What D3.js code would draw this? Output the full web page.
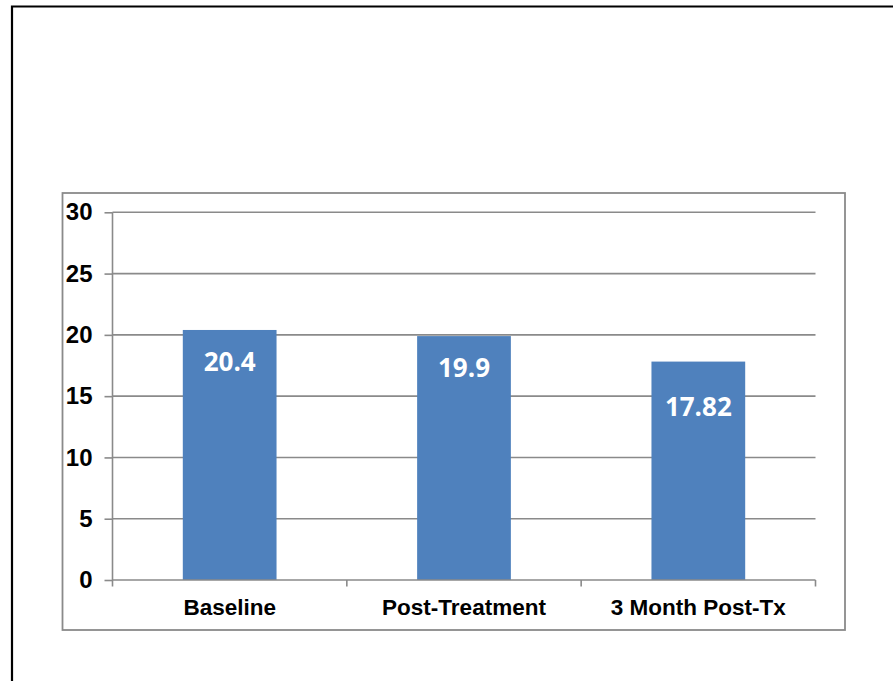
<!DOCTYPE html>
<html>
<head>
<meta charset="utf-8">
<script src="https://cdn.jsdelivr.net/npm/d3@7"></script>
<style>
  html, body { margin: 0; padding: 0; background: #ffffff; }
  svg { display: block; }
</style>
</head>
<body>
<svg id="chart" width="893" height="681"></svg>
<script>
// Scores at each assessment point
const categories = ["Baseline", "Post-Treatment", "3 Month Post-Tx"];
const values = [20.4, 19.9, 17.82];
const valueLabels = ["20.4", "19.9", "17.82"];
const yTicks = [0, 5, 10, 15, 20, 25, 30];
// extra downward shift of each value label inside its bar
const labelNudge = [0, 0, 13];

const svg = d3.select("#chart");
const W = 893, H = 681;

// outer page frame (top and left edges visible)
svg.append("path")
  .attr("d", `M12,${H} L12,6.5 L${W},6.5`)
  .attr("fill", "none")
  .attr("stroke", "#000")
  .attr("stroke-width", 2.2);

// chart area frame
svg.append("rect")
  .attr("x", 62.5).attr("y", 193)
  .attr("width", 782.5).attr("height", 437)
  .attr("fill", "#fff")
  .attr("stroke", "#8a8a8a")
  .attr("stroke-width", 1.8);

const plot = { left: 112.5, right: 815.5, top: 212.3, bottom: 580 };
const gridColor = "#8a8a8a";

const y = d3.scaleLinear().domain([0, 30]).range([plot.bottom, plot.top]);
const xCat = d3.scaleBand().domain(categories).range([plot.left, plot.right]).padding(0);
const xBar = d3.scaleBand().domain(categories).range([plot.left, plot.right])
  .paddingInner(0.6).paddingOuter(0.3);

// horizontal gridlines
svg.append("g")
  .selectAll("line")
  .data(yTicks.filter(t => t > 0))
  .join("line")
  .attr("x1", plot.left).attr("x2", plot.right)
  .attr("y1", d => y(d)).attr("y2", d => y(d))
  .attr("stroke", gridColor).attr("stroke-width", 1.6);

// y axis
const yAxis = svg.append("g")
  .attr("transform", `translate(${plot.left},0)`)
  .call(d3.axisLeft(y).tickValues(yTicks).tickSize(8).tickPadding(12).tickFormat(d3.format("d")));
yAxis.select(".domain").attr("stroke", gridColor).attr("stroke-width", 1.6)
  .attr("d", `M0,${plot.top}V${plot.bottom + 6.5}`);
yAxis.selectAll(".tick line").attr("stroke", gridColor).attr("stroke-width", 1.6);
yAxis.selectAll(".tick text")
  .attr("fill", "#000")
  .style("font-family", "'Liberation Sans', Arial, sans-serif")
  .style("font-weight", "bold")
  .style("font-size", "24px");

// bars
svg.append("g")
  .selectAll("rect")
  .data(values)
  .join("rect")
  .attr("x", (d, i) => xBar(categories[i]))
  .attr("width", xBar.bandwidth())
  .attr("y", d => y(d))
  .attr("height", d => y(0) - y(d))
  .attr("fill", "#4f81bd");

// x axis: baseline, category boundary ticks and labels
const xAxis = svg.append("g")
  .attr("transform", `translate(0,${plot.bottom})`)
  .call(d3.axisBottom(xCat).tickSize(0).tickPadding(19));
xAxis.select(".domain").attr("stroke", gridColor).attr("stroke-width", 1.6)
  .attr("d", `M${plot.left},0H${plot.right}`);
xAxis.selectAll(".tick text")
  .attr("fill", "#000")
  .style("font-family", "'Liberation Sans', Arial, sans-serif")
  .style("font-weight", "bold")
  .style("font-size", "22.5px");
xAxis.append("g")
  .selectAll("line")
  .data(categories.slice(1).map(c => xCat(c)).concat([plot.right]))
  .join("line")
  .attr("x1", d => d).attr("x2", d => d)
  .attr("y1", 0).attr("y2", 6.5)
  .attr("stroke", gridColor).attr("stroke-width", 1.6);

// value labels inside bars
svg.append("g")
  .selectAll("text")
  .data(values)
  .join("text")
  .attr("x", (d, i) => xBar(categories[i]) + xBar.bandwidth() / 2)
  .attr("y", (d, i) => y(d) + 41 + labelNudge[i])
  .attr("text-anchor", "middle")
  .attr("fill", "#fff")
  .style("font-family", "'Open Sans', sans-serif")
  .style("font-weight", "bold")
  .style("font-size", "26px")
  .text((d, i) => valueLabels[i]);
</script>
</body>
</html>
